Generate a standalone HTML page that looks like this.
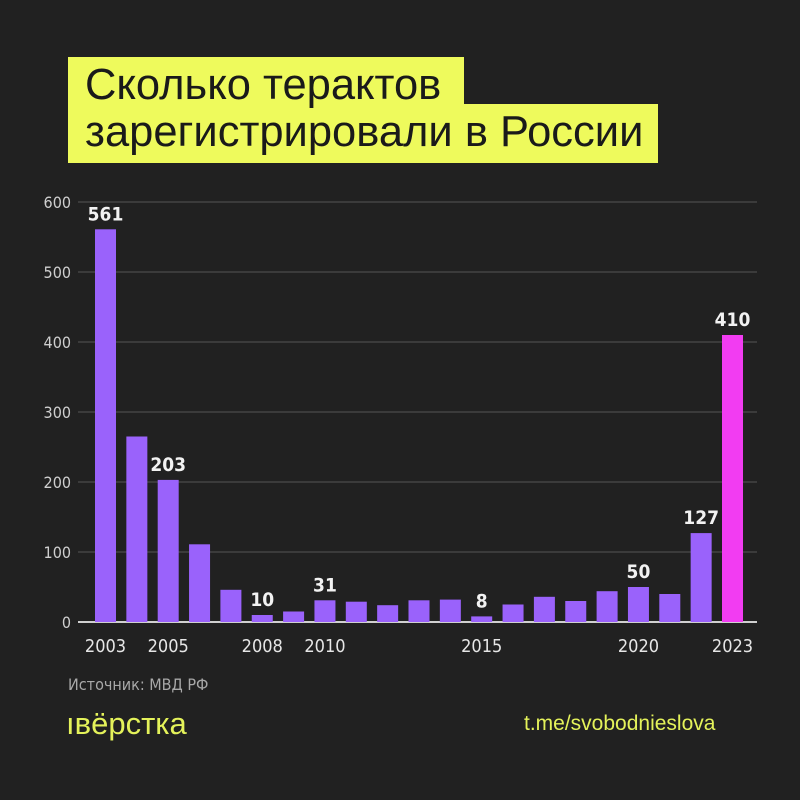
<!DOCTYPE html>
<html><head><meta charset="utf-8"><style>
html,body{margin:0;padding:0;background:#212121;}
#root{position:relative;width:800px;height:800px;background:#212121;overflow:hidden;font-family:"Liberation Sans","DejaVu Sans",sans-serif;}
.tb{position:absolute;background:#eefa5c;}
.tt{position:absolute;color:#1a1a1a;font-size:43.5px;line-height:1;white-space:nowrap;}
</style></head><body>
<div id="root">
<div class="tb" style="left:68px;top:57px;width:396px;height:52px"></div>
<div class="tb" style="left:68px;top:104px;width:590px;height:59px"></div>
<div class="tt" style="left:85px;top:64px">Сколько терактов</div>
<div class="tt" style="left:85px;top:111px">зарегистрировали в России</div>
<svg id="chart" width="800" height="800" style="position:absolute;left:0;top:0"></svg>
<div style="position:absolute;left:68px;top:675px;color:#a8a8a8;font-size:16px;font-family:'DejaVu Sans Condensed','Liberation Sans Narrow','Liberation Sans',sans-serif">Источник: МВД РФ</div>
<div style="position:absolute;left:66px;top:706px;color:#e4f25a;font-size:31px">ıвёрстка</div>
<div style="position:absolute;left:524px;top:712px;color:#e4f25a;font-size:21px">t.me/svobodnieslova</div>
</div>
<script>
const years=[2003,2004,2005,2006,2007,2008,2009,2010,2011,2012,2013,2014,2015,2016,2017,2018,2019,2020,2021,2022,2023];
const values=[561,265,203,111,46,10,15,31,29,24,31,32,8,25,36,30,44,50,40,127,410];
const yTicks=[0,100,200,300,400,500,600];
const xLabels=[2003,2005,2008,2010,2015,2020,2023];
const valueLabels=[2003,2005,2008,2010,2015,2020,2022,2023];
const NS="http://www.w3.org/2000/svg";
const svg=document.getElementById('chart');
const y0=622,pxPer=0.7,x0=95,step=31.35,bw=21;
const yS=v=>y0-v*pxPer;
const xS=yr=>x0+(yr-years[0])*step;
function mk(t,a){const e=document.createElementNS(NS,t);for(const k in a)e.setAttribute(k,a[k]);svg.appendChild(e);return e;}
yTicks.forEach(t=>{
  const l=mk('line',{x1:78,x2:757,y1:yS(t),y2:yS(t),stroke:t===0?'#d0d0d0':'#555555','stroke-width':t===0?2:1});
  
  
  const tx=mk('text',{x:71,y:yS(t)+6,'text-anchor':'end',fill:'#cfcfcf','font-size':16,'font-family':'DejaVu Sans Condensed, Liberation Sans, sans-serif'});
  tx.textContent=t;
  
  
});
years.forEach((yr,i)=>{
  const v=values[i];
  const r=mk('rect',{x:xS(yr),y:yS(v),width:bw,height:v*pxPer,fill:yr===2023?'#f23cf2':'#9a62fb'});
  
  
  if(valueLabels.includes(yr)){
    const t=mk('text',{x:xS(yr)+bw/2,y:yS(v)-9,'text-anchor':'middle',fill:'#f2f2f2','font-size':19,'font-weight':'bold','font-family':'DejaVu Sans Condensed, Liberation Sans, sans-serif'});
    t.textContent=v;
    
    
  }
});
xLabels.forEach(yr=>{
  const t=mk('text',{x:xS(yr)+bw/2,y:652,'text-anchor':'middle',fill:'#e6e6e6','font-size':18,'font-family':'DejaVu Sans Condensed, Liberation Sans, sans-serif'});
  t.textContent=yr;
  
  
});
</script>
</body></html>
